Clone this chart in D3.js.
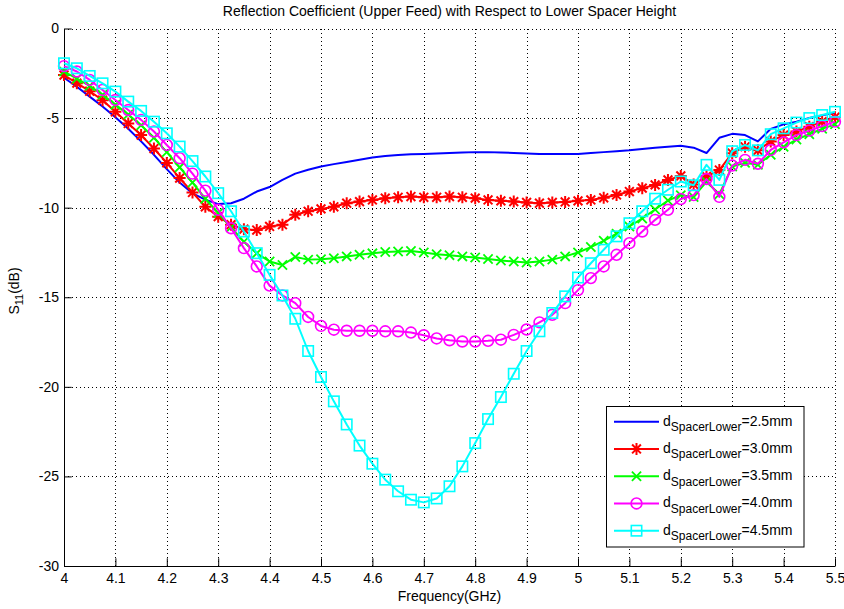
<!DOCTYPE html>
<html>
<head>
<meta charset="utf-8">
<script src="https://cdn.jsdelivr.net/npm/d3@7"></script>
<style>
  html, body { margin: 0; padding: 0; background: #fff; }
  svg { display: block; font-family: Arial, "Liberation Sans", Helvetica, sans-serif; }
</style>
</head>
<body>
<svg id="chart" width="844" height="609"></svg>
<script>
// Frequency sweep (GHz)
const freq = [4.000,4.025,4.050,4.075,4.100,4.125,4.150,4.175,4.200,4.225,
              4.250,4.275,4.300,4.325,4.350,4.375,4.400,4.425,4.450,4.475,
              4.500,4.525,4.550,4.575,4.600,4.625,4.650,4.675,4.700,4.725,
              4.750,4.775,4.800,4.825,4.850,4.875,4.900,4.925,4.950,4.975,
              5.000,5.025,5.050,5.075,5.100,5.125,5.150,5.175,5.200,5.225,
              5.250,5.275,5.300,5.325,5.350,5.375,5.400,5.425,5.450,5.475,5.500];

// S11 (dB) for each lower spacer height
const s11_25 = [-2.75,-3.25,-3.8,-4.35,-4.95,-5.6,-6.3,-7.05,-7.85,-8.6,
                -9.2,-9.55,-9.8,-9.75,-9.5,-9.1,-8.85,-8.45,-8.1,-7.88,
                -7.7,-7.57,-7.45,-7.32,-7.2,-7.12,-7.06,-7.02,-7.0,-6.97,
                -6.95,-6.92,-6.9,-6.9,-6.92,-6.95,-6.97,-7.0,-7.0,-7.0,
                -7.0,-6.95,-6.9,-6.85,-6.8,-6.72,-6.65,-6.6,-6.55,-6.65,
                -6.95,-6.1,-5.88,-5.95,-6.3,-5.6,-5.35,-5.2,-5.0,-4.85,-4.7];
const s11_30 = [-2.6,-3.05,-3.5,-4.0,-4.65,-5.3,-5.95,-6.7,-7.5,-8.35,
                -9.15,-9.95,-10.5,-10.95,-11.2,-11.25,-11.05,-10.95,-10.4,-10.2,
                -10.07,-9.95,-9.75,-9.66,-9.57,-9.47,-9.42,-9.38,-9.42,-9.42,
                -9.38,-9.42,-9.47,-9.57,-9.62,-9.66,-9.71,-9.75,-9.71,-9.68,
                -9.62,-9.57,-9.45,-9.29,-9.1,-8.91,-8.73,-8.45,-8.23,-8.7,
                -8.25,-7.9,-6.96,-6.6,-6.8,-6.3,-5.95,-5.75,-5.48,-5.2,-4.95];
const s11_35 = [-2.4,-2.8,-3.2,-3.7,-4.25,-4.8,-5.4,-6.1,-6.9,-7.75,
                -8.6,-9.5,-10.3,-11.1,-11.9,-12.55,-13.0,-13.2,-12.75,-12.9,
                -12.88,-12.82,-12.72,-12.63,-12.55,-12.47,-12.45,-12.42,-12.5,-12.6,
                -12.65,-12.72,-12.78,-12.87,-12.95,-13.0,-13.06,-13.0,-12.9,-12.72,
                -12.5,-12.2,-11.85,-11.45,-11.05,-10.6,-10.1,-9.6,-9.3,-9.4,
                -8.55,-9.25,-7.7,-7.5,-7.6,-7.05,-6.6,-6.2,-5.9,-5.6,-5.35];
const s11_40 = [-2.1,-2.4,-2.87,-3.43,-3.99,-4.55,-5.1,-5.75,-6.5,-7.24,
                -8.1,-9.05,-10.12,-11.15,-12.26,-13.28,-14.35,-14.9,-15.33,-16.1,
                -16.6,-16.81,-16.87,-16.87,-16.87,-16.9,-16.9,-16.97,-17.12,-17.3,
                -17.4,-17.47,-17.47,-17.43,-17.37,-17.1,-16.8,-16.4,-15.98,-15.33,
                -14.6,-13.93,-13.28,-12.63,-11.98,-11.33,-10.68,-10.12,-9.52,-9.3,
                -8.4,-9.4,-7.65,-7.33,-7.55,-6.78,-6.35,-5.95,-5.7,-5.45,-5.2];
const s11_45 = [-1.94,-2.22,-2.65,-3.06,-3.52,-4.08,-4.6,-5.2,-5.85,-6.59,
                -7.4,-8.26,-9.19,-10.2,-11.33,-12.54,-13.75,-14.9,-16.2,-18.0,
                -19.45,-20.81,-22.1,-23.28,-24.29,-25.18,-25.83,-26.3,-26.45,-26.23,
                -25.55,-24.44,-23.14,-21.8,-20.57,-19.27,-18.0,-16.9,-15.88,-14.95,
                -13.9,-13.1,-12.35,-11.6,-10.87,-10.2,-9.5,-9.0,-8.54,-8.75,
                -7.61,-8.45,-6.85,-6.5,-6.8,-5.9,-5.57,-5.25,-5.0,-4.83,-4.65];

const seriesLabels = ["=2.5mm", "=3.0mm", "=3.5mm", "=4.0mm", "=4.5mm"];
const seriesColors = ["#0000ff", "#ff0000", "#00ff00", "#ff00ff", "#00ffff"];
const seriesMarkers = ["none", "asterisk", "cross", "circle", "square"];

const xTicks = [4,4.1,4.2,4.3,4.4,4.5,4.6,4.7,4.8,4.9,5,5.1,5.2,5.3,5.4,5.5];
const xTickLabels = ["4","4.1","4.2","4.3","4.4","4.5","4.6","4.7","4.8","4.9","5","5.1","5.2","5.3","5.4","5.5"];
const yTicks = [0,-5,-10,-15,-20,-25,-30];
const yTickLabels = ["0","-5","-10","-15","-20","-25","-30"];

const allSeries = [s11_25, s11_30, s11_35, s11_40, s11_45];

const svg = d3.select("#chart");
const plot = { left: 64, right: 835, top: 28.5, bottom: 566 };

const x = d3.scaleLinear().domain([4, 5.5]).range([plot.left, plot.right]);
const y = d3.scaleLinear().domain([-30, 0]).range([plot.bottom, plot.top]);

// Dotted grid
const grid = svg.append("g").attr("stroke", "#000").attr("stroke-width", 1)
  .attr("stroke-dasharray", "1,3").attr("shape-rendering", "crispEdges");
grid.selectAll("line.vx").data(xTicks.slice(1)).enter().append("line")
  .attr("x1", d => Math.round(x(d)) + 0.5).attr("x2", d => Math.round(x(d)) + 0.5)
  .attr("y1", plot.bottom).attr("y2", plot.top);
grid.selectAll("line.hy").data(yTicks.slice(0, -1)).enter().append("line")
  .attr("y1", d => Math.round(y(d)) + 0.5).attr("y2", d => Math.round(y(d)) + 0.5)
  .attr("x1", plot.left).attr("x2", plot.right);

// Axes with inward ticks
const tickLen = 7.7;
const xAxis = d3.axisBottom(x).tickValues(xTicks).tickSize(-tickLen).tickSizeOuter(0)
  .tickPadding(7).tickFormat((d, i) => xTickLabels[i]);
const yAxis = d3.axisLeft(y).tickValues(yTicks).tickSize(-tickLen).tickSizeOuter(0)
  .tickPadding(5).tickFormat((d, i) => yTickLabels[i]);

const gx = svg.append("g").attr("transform", `translate(0,${plot.bottom})`).call(xAxis);
const gy = svg.append("g").attr("transform", `translate(${plot.left},0)`).call(yAxis);
[gx, gy].forEach(g => {
  g.select(".domain").attr("stroke", "#000").attr("stroke-width", 1);
  g.selectAll(".tick line").attr("stroke", "#000");
  g.selectAll("text").attr("fill", "#000").style("font-size", "14px")
    .style("font-family", "Arial, 'Liberation Sans', sans-serif");
});

// Marker shapes
function drawMarker(sel, type, color) {
  const sw = 1.6;
  if (type === "asterisk") {
    const s = 6, d = 4.4;
    sel.append("path")
      .attr("d", `M0,${-s}L0,${s}M${-s},0L${s},0M${-d},${-d}L${d},${d}M${-d},${d}L${d},${-d}`)
      .attr("stroke", color).attr("stroke-width", sw + 0.4).attr("fill", "none");
  } else if (type === "cross") {
    const d = 4.6;
    sel.append("path")
      .attr("d", `M${-d},${-d}L${d},${d}M${-d},${d}L${d},${-d}`)
      .attr("stroke", color).attr("stroke-width", sw + 0.2).attr("fill", "none");
  } else if (type === "circle") {
    sel.append("circle").attr("r", 5.4)
      .attr("stroke", color).attr("stroke-width", sw).attr("fill", "none");
  } else if (type === "square") {
    sel.append("rect").attr("x", -5.2).attr("y", -5.2).attr("width", 10.4).attr("height", 10.4)
      .attr("stroke", color).attr("stroke-width", sw).attr("fill", "none");
  }
}

// Curves
const line = d3.line().x(d => x(d[0])).y(d => y(d[1]));
allSeries.forEach((vals, k) => {
  const pts = freq.map((f, i) => [f, vals[i]]);
  const g = svg.append("g");
  g.append("path").datum(pts).attr("d", line)
    .attr("fill", "none").attr("stroke", seriesColors[k]).attr("stroke-width", 2)
    .attr("stroke-linejoin", "round");
  if (seriesMarkers[k] !== "none") {
    pts.forEach(p => {
      const m = g.append("g").attr("transform", `translate(${x(p[0])},${y(p[1])})`);
      drawMarker(m, seriesMarkers[k], seriesColors[k]);
    });
  }
});

// Title and axis labels
svg.append("text").attr("x", (plot.left + plot.right) / 2).attr("y", 16)
  .attr("text-anchor", "middle").style("font-size", "14px")
  .text("Reflection Coefficient (Upper Feed) with Respect to Lower Spacer Height");

svg.append("text").attr("x", (plot.left + plot.right) / 2).attr("y", 601)
  .attr("text-anchor", "middle").style("font-size", "14px")
  .text("Frequency(GHz)");

const yl = svg.append("text").attr("transform", "translate(18.5,291) rotate(-90)")
  .attr("text-anchor", "middle").style("font-size", "14px");
yl.append("tspan").text("S");
yl.append("tspan").attr("dy", 4).style("font-size", "11px").text("11");
yl.append("tspan").attr("dy", -4).text("(dB)");

// Legend
const lg = svg.append("g");
lg.append("rect").attr("x", 606.5).attr("y", 406.5).attr("width", 197.5).attr("height", 140.5)
  .attr("fill", "#fff").attr("stroke", "#000").attr("stroke-width", 1);
const rowY0 = 421.7, rowStep = 27.25;
seriesLabels.forEach((lab, k) => {
  const ry = rowY0 + k * rowStep;
  lg.append("line").attr("x1", 614).attr("x2", 659).attr("y1", ry).attr("y2", ry)
    .attr("stroke", seriesColors[k]).attr("stroke-width", 2);
  if (seriesMarkers[k] !== "none") {
    drawMarker(lg.append("g").attr("transform", `translate(636.5,${ry})`), seriesMarkers[k], seriesColors[k]);
  }
  const t = lg.append("text").attr("x", 663).attr("y", ry + 4).style("font-size", "14px");
  t.append("tspan").text("d");
  t.append("tspan").attr("dy", 5.5).style("font-size", "12px").text("SpacerLower");
  t.append("tspan").attr("dy", -5.5).text(lab);
});
</script>
</body>
</html>
